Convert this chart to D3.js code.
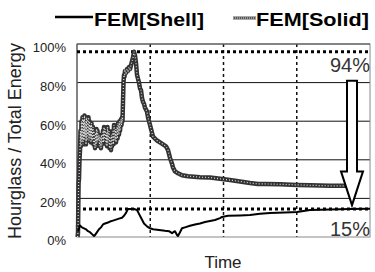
<!DOCTYPE html>
<html><head><meta charset="utf-8">
<script src="https://cdn.jsdelivr.net/npm/d3@7/dist/d3.min.js"></script>
<style>body{margin:0;background:#fff}svg{display:block}text{font-family:Arial,"Liberation Sans",sans-serif}</style>
</head><body>
<script>
// Time (arbitrary units, 0..293) and Hourglass/Total energy (%)
const solidTime = [0.5,1,1.3,1.6,2,2.5,3,3.5,4,4.5,5,5.5,6,6.5,7,7.5,8,8.5,9,9.5,10,10.5,11,11.5,12,12.5,13,13.5,14,14.5,15,16,16.5,17,18,18.5,19,19.5,20,20.5,21,22,22.5,23,24,24.5,25,26,26.5,27,27.5,28,29,29.5,30,30.5,31,32,32.5,33,34,34.5,35,36,36.5,37,38,38.5,39,40,40.5,41,42,42.5,43,44,44.5,45,45.5,46,46.5,47,47.5,48,49,50,51,52,53,54,55,56,57,58,59,60,61,62,63,64,65,66,67,68,69,70,71,72,73,74,75,76,78,80,83,86,89,91,93,95,96,98,101,105,111,123,133,145,153,163,173,181,188,203,220,233,253,273,293];
const solidValue = [0,2,15,28,30,40,45,55,47,60,50,62,48,61,50,63,52,60,48,62,50,61,53,62,50,60,52,58,49,59,50,57,48,55,46,54,47,56,49,55,50,53,47,52,46,53,48,55,49,57,50,56,48,54,47,57,49,55,46,52,45,53,47,55,48,58,50,56,49,57,51,59,53,60,55,61,58,62,60,70,80,84,83,86,85,87,86,88,87,89,91,93,96,94,90,84,82,80,77,76,72,70,69,67,66,65,62,60,58,56,54,52,51,50,49,48,47,45,41,38,36,34,33,32,31.5,31,30.8,30,29.5,28.8,28,27.5,27.5,27.3,27,26.8,26.5,26.5];
const shellTime = [1,3,5,7,9,11,13,15,17,18,20,22,24,26,28,31,33,36,39,42,45,47,49,51,54,57,60,62,64,67,70,73,76,80,84,88,92,95,98,100,101,103,105,108,113,118,123,128,133,138,143,145,151,163,173,183,193,208,220,233,253,273,293];
const shellValue = [3,6,5,4.5,4,3,2.5,1.5,0.5,1,2.5,4,5,6.5,7,7.5,8,8.5,9,9.5,10,11,12.5,14.5,14.5,14.5,14,12,10,7,5.5,4.5,4,3.8,3.5,3.2,3,2,3,1,0.5,2.5,4.5,5,5.8,6.5,7,7.8,8.3,8.8,9.8,10.4,11,11.2,11.4,12,12.4,12.7,13,14,14.3,14.5,14.6];
const yTicks = [0,20,40,60,80,100];
const seriesNames = ["FEM[Shell]","FEM[Solid]"];
const refLevels = [96,14.5];
const refLabels = ["94%","15%"];

const W=375,H=272,m={l:77,r:5,t:44,b:35};
const svg=d3.select("body").append("svg").attr("width",W).attr("height",H);
const x=d3.scaleLinear().domain([0,293]).range([m.l,W-m.r]);
const y=d3.scaleLinear().domain([0,100]).range([H-m.b,m.t]);

// horizontal gridlines
svg.append("g").selectAll("line").data(yTicks.filter(d=>d>0&&d<100)).join("line")
  .attr("x1",x(0)).attr("x2",x(293)).attr("y1",d=>y(d)).attr("y2",d=>y(d))
  .attr("stroke","#111").attr("stroke-width",1);
// vertical dashed lines
svg.append("g").selectAll("line").data([293/4,293/2,293*3/4]).join("line")
  .attr("x1",d=>x(d)).attr("x2",d=>x(d)).attr("y1",y(100)).attr("y2",y(0))
  .attr("stroke","#111").attr("stroke-width",1.5).attr("stroke-dasharray","3,3");
// frame
svg.append("rect").attr("x",x(0)).attr("y",y(100)).attr("width",x(293)-x(0)).attr("height",y(0)-y(100))
  .attr("fill","none").attr("stroke","#888").attr("stroke-width",1);
svg.append("line").attr("x1",x(0)).attr("x2",x(293)).attr("y1",y(100)).attr("y2",y(100)).attr("stroke","#444");
svg.append("line").attr("x1",x(0)).attr("x2",x(0)).attr("y1",y(100)).attr("y2",y(0)).attr("stroke","#444");

// y axis labels
const ya=svg.append("g").attr("transform",`translate(66,0)`)
  .call(d3.axisLeft(y).tickValues(yTicks).tickSize(0).tickPadding(0).tickFormat(d=>d+"%"));
ya.select(".domain").remove();
ya.selectAll("text").attr("font-size",13).attr("fill","#222").attr("dy","0.6em")
  .style("font-family","Arial, 'Liberation Sans', sans-serif");

// reference dotted lines
svg.append("g").selectAll("line").data(refLevels).join("line")
  .attr("x1",x(0)).attr("x2",x(293)).attr("y1",d=>y(d)).attr("y2",d=>y(d))
  .attr("stroke","#000").attr("stroke-width",3).attr("stroke-dasharray","3,3");

const line=d3.line().x(d=>x(d[0])).y(d=>y(d[1]));
const solidPts=solidTime.map((t,i)=>[t,solidValue[i]]);
const shellPts=shellTime.map((t,i)=>[t,shellValue[i]]);
// solid series (hatched grey band)
svg.append("path").attr("d",line(solidPts)).attr("fill","none").attr("stroke","#333").attr("stroke-width",4.5).attr("stroke-linejoin","round");
svg.append("path").attr("d",line(solidPts)).attr("fill","none").attr("stroke","#ddd").attr("stroke-width",1.2).attr("stroke-dasharray","1,2");
// shell series
svg.append("path").attr("d",line(shellPts)).attr("fill","none").attr("stroke","#000").attr("stroke-width",2).attr("stroke-linejoin","round");

// arrow
const ax=x(275),hw=5,hh=11;
const ap=[[ax-hw,y(81)],[ax+hw,y(81)],[ax+hw,y(34)],[ax+hh,y(34)],[ax,y(16.5)],[ax-hh,y(34)],[ax-hw,y(34)]];
svg.append("path").attr("d","M"+ap.map(p=>p.join(",")).join("L")+"Z").attr("fill","#fff").attr("stroke","#000").attr("stroke-width",2);

// ref labels
svg.append("text").attr("x",370).attr("y",72).attr("text-anchor","end").attr("font-size",20).attr("fill","#333").text(refLabels[0]);
svg.append("text").attr("x",370).attr("y",236).attr("text-anchor","end").attr("font-size",20).attr("fill","#333").text(refLabels[1]);

// legend
svg.append("line").attr("x1",55).attr("x2",93).attr("y1",17).attr("y2",17).attr("stroke","#000").attr("stroke-width",2.5);
svg.append("text").attr("x",94).attr("y",26).attr("font-size",18.5).attr("font-weight","bold")
  .attr("textLength",110).attr("lengthAdjust","spacingAndGlyphs").text(seriesNames[0]);
svg.append("line").attr("x1",233).attr("x2",256).attr("y1",18).attr("y2",18).attr("stroke","#555").attr("stroke-width",3);
svg.append("line").attr("x1",233).attr("x2",256).attr("y1",18).attr("y2",18).attr("stroke","#ddd").attr("stroke-width",1).attr("stroke-dasharray","1,1");
svg.append("text").attr("x",256).attr("y",26).attr("font-size",18.5).attr("font-weight","bold")
  .attr("textLength",113).attr("lengthAdjust","spacingAndGlyphs").text(seriesNames[1]);

// axis titles
svg.append("text").attr("transform","translate(21,141) rotate(-90)").attr("text-anchor","middle")
  .attr("font-size",18).attr("fill","#222").text("Hourglass / Total Energy");
svg.append("text").attr("x",223).attr("y",268).attr("text-anchor","middle").attr("font-size",17).attr("fill","#222").text("Time");
</script>
</body></html>
